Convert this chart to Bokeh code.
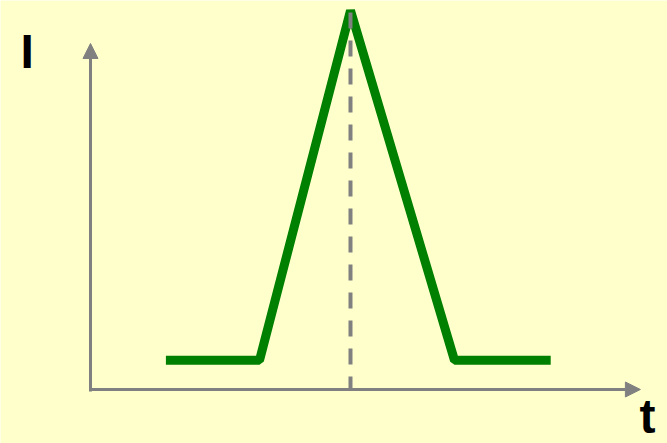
from bokeh.plotting import figure
from bokeh.models import Arrow, NormalHead, Label, Range1d
from bokeh.embed import file_html
from bokeh.resources import INLINE

# Data (abstract units: t along x, I along y)
t_vals = [2.9, 6.5, 10.0, 14.0, 17.7]
i_vals = [1.0, 1.0, 13.0, 1.0, 1.0]
t_peak = 10.0
t_axis_end = 21.15
i_axis_end = 11.87
axis_labels = ["I", "t"]

BG = "#FFFFCC"
GRAY = "#808080"
GREEN = "#008000"

p = figure(width=667, height=443, output_backend="svg", toolbar_location=None,
           x_range=Range1d(-3.4615, 22.1923), y_range=Range1d(-1.8525, 13.3448),
           min_border=0, background_fill_color=BG, border_fill_color=BG,
           outline_line_color=None)
p.axis.visible = False
p.grid.visible = False

# axes with arrowheads
p.add_layout(Arrow(x_start=0, y_start=-0.07, x_end=0, y_end=i_axis_end,
                   line_color=GRAY, line_width=3,
                   end=NormalHead(size=15, fill_color=GRAY, line_color=GRAY, line_width=1)))
p.add_layout(Arrow(x_start=-0.04, y_start=0, x_end=t_axis_end, y_end=0,
                   line_color=GRAY, line_width=3,
                   end=NormalHead(size=15, fill_color=GRAY, line_color=GRAY, line_width=1)))

# green pulse
p.line(t_vals, i_vals, line_color=GREEN, line_width=9)

# dashed vertical line at peak (drawn over the pulse)
p.line([t_peak, t_peak], [max(i_vals), 0], line_color=GRAY, line_width=4,
       line_dash="16 12", line_dash_offset=26)

# axis labels
p.add_layout(Label(x=-2.69, y=11.59, text=axis_labels[0], text_font="Liberation Sans",
                   text_font_style="bold", text_font_size="48px", text_color="black",
                   text_align="left", text_baseline="alphabetic"))
p.add_layout(Label(x=21.12, y=-0.93, text=axis_labels[1], text_font="Liberation Sans",
                   text_font_style="bold", text_font_size="48px", text_color="black",
                   text_align="left", text_baseline="alphabetic"))

open("out.html", "w").write(file_html(p, INLINE))
